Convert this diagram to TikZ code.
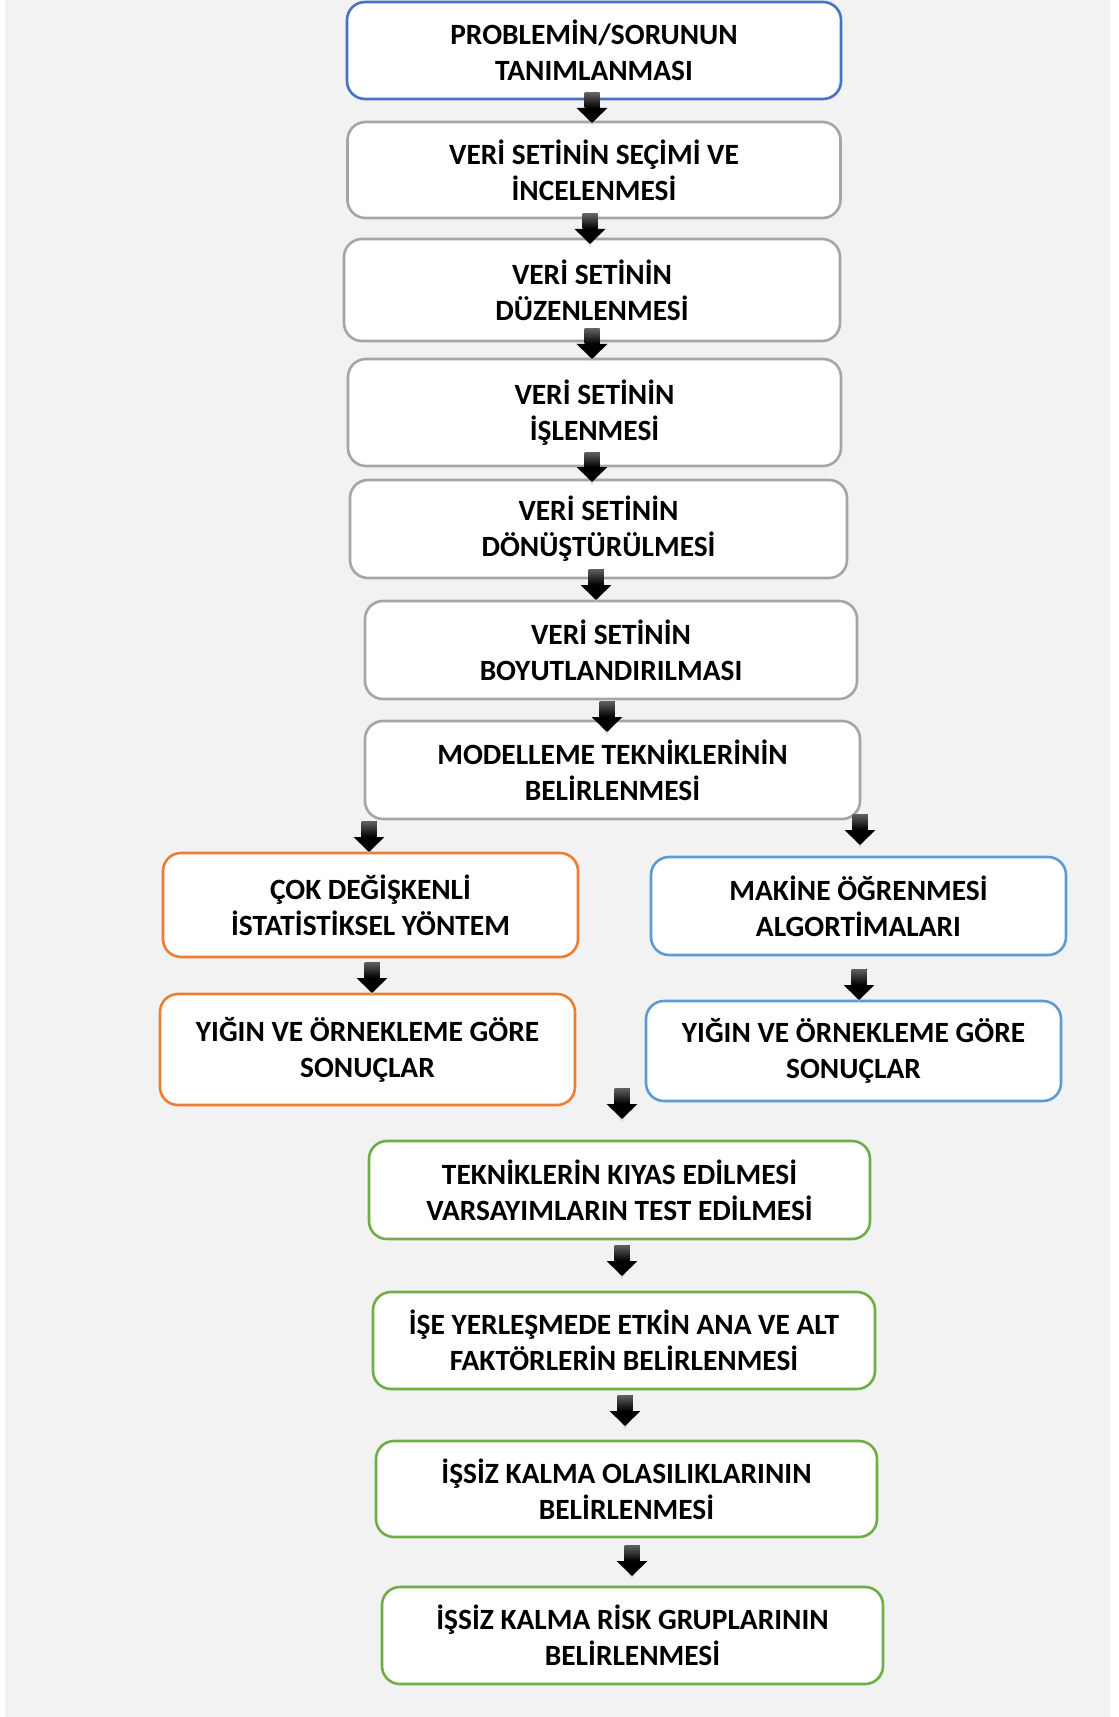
\documentclass[tikz,border=0pt]{standalone}
\usepackage{fontspec}
\setmainfont{Carlito}
\usetikzlibrary{arrows.meta,calc}
\definecolor{bgc}{HTML}{F2F2F2}
\definecolor{topblue}{HTML}{4472C4}
\definecolor{boxgray}{HTML}{A5A5A5}
\definecolor{boxorange}{HTML}{ED7D31}
\definecolor{boxblue}{HTML}{5B9BD5}
\definecolor{boxgreen}{HTML}{70AD47}
\begin{document}
\begin{tikzpicture}[x=0.5pt,y=-0.5pt,
  box/.style={draw, fill=white, rounded corners=9pt, line width=1.3pt,
    align=center, inner sep=0pt, text=black,
    font=\fontsize{14.7}{18}\selectfont\bfseries},
  graybox/.style={box, draw=boxgray},
  orangebox/.style={box, draw=boxorange},
  bluebox/.style={box, draw=boxblue},
  greenbox/.style={box, draw=boxgreen},
  blockarrow/.style={line width=7.5pt, black, -{Triangle[width=15pt,length=7.5pt]}}
]
% background
\useasboundingbox (0,0) rectangle (1118,1717);
\fill[white] (0,0) rectangle (1118,1717);
\fill[bgc] (5,0) rectangle (1110,1717);

% boxes
\node[box, draw=topblue, minimum width=247pt, minimum height=48.5pt] (b1) at (594,50.5) {PROBLEMİN/SORUNUN\\TANIMLANMASI};
\node[graybox, minimum width=246.5pt, minimum height=48pt] (b2) at (594,170) {VERİ SETİNİN SEÇİMİ VE\\İNCELENMESİ};
\node[graybox, minimum width=248pt, minimum height=51pt] (b3) at (592,290) {VERİ SETİNİN\\DÜZENLENMESİ};
\node[graybox, minimum width=246.5pt, minimum height=53.5pt] (b4) at (594.5,412.5) {VERİ SETİNİN\\İŞLENMESİ};
\node[graybox, minimum width=248.5pt, minimum height=49pt] (b5) at (598.5,529) {VERİ SETİNİN\\DÖNÜŞTÜRÜLMESİ};
\node[graybox, minimum width=246pt, minimum height=49pt] (b6) at (611,650) {VERİ SETİNİN\\BOYUTLANDIRILMASI};
\node[graybox, minimum width=247.5pt, minimum height=49pt] (b7) at (612.5,770) {MODELLEME TEKNİKLERİNİN\\BELİRLENMESİ};
\node[orangebox, minimum width=207.5pt, minimum height=52pt] (l1) at (370.5,905) {ÇOK DEĞİŞKENLİ\\İSTATİSTİKSEL YÖNTEM};
\node[orangebox, minimum width=207.5pt, minimum height=55.5pt] (l2) at (367.5,1049.5) {YIĞIN VE ÖRNEKLEME GÖRE\\SONUÇLAR};
\node[bluebox, minimum width=207.5pt, minimum height=49pt] (r1) at (858.5,906) {MAKİNE ÖĞRENMESİ\\ALGORTİMALARI};
\node[bluebox, minimum width=207.5pt, minimum height=50pt] (r2) at (853.5,1051) {YIĞIN VE ÖRNEKLEME GÖRE\\SONUÇLAR};
\node[greenbox, minimum width=250.5pt, minimum height=49pt] (g1) at (619.5,1190) {TEKNİKLERİN KIYAS EDİLMESİ\\VARSAYIMLARIN TEST EDİLMESİ};
\node[greenbox, minimum width=251pt, minimum height=48.5pt] (g2) at (624,1340.5) {İŞE YERLEŞMEDE ETKİN ANA VE ALT\\FAKTÖRLERİN BELİRLENMESİ};
\node[greenbox, minimum width=250.5pt, minimum height=48pt] (g3) at (626.5,1489) {İŞSİZ KALMA OLASILIKLARININ\\BELİRLENMESİ};
\node[greenbox, minimum width=250.5pt, minimum height=48.5pt] (g4) at (632.5,1635.5) {İŞSİZ KALMA RİSK GRUPLARININ\\BELİRLENMESİ};

% arrow end points
\coordinate (a1s) at (592,93);    \coordinate (a1e) at (592,123);
\coordinate (a2s) at (590,214);   \coordinate (a2e) at (590,244);
\coordinate (a3s) at (592,329);   \coordinate (a3e) at (592,359);
\coordinate (a4s) at (592,452);   \coordinate (a4e) at (592,482);
\coordinate (a5s) at (596,569);   \coordinate (a5e) at (596,600);
\coordinate (a6s) at (607,701);   \coordinate (a6e) at (607,732);
\coordinate (a7s) at (369,821);   \coordinate (a7e) at (369,852);
\coordinate (a8s) at (860,814);   \coordinate (a8e) at (860,845);
\coordinate (a9s) at (372,962);   \coordinate (a9e) at (372,993);
\coordinate (a10s) at (859,969);  \coordinate (a10e) at (859,1000);
\coordinate (a11s) at (622,1088); \coordinate (a11e) at (622,1119);
\coordinate (a12s) at (622,1245); \coordinate (a12e) at (622,1276);
\coordinate (a13s) at (625,1395); \coordinate (a13e) at (625,1426);
\coordinate (a14s) at (632,1545); \coordinate (a14e) at (632,1576);

\foreach \i in {1,...,14}{
  \fill[black!25, opacity=0.5] ($(a\i e)+(-10,-14)$) -- ($(a\i e)+(10,-14)$) -- ($(a\i e)+(0,3)$) -- cycle;
  \draw[blockarrow] (a\i s) -- (a\i e);
  \shade[top color=black!62, bottom color=black] ($(a\i s)+(-7.5,0)$) rectangle ($(a\i e)+(7.5,-15)$);
}
\end{tikzpicture}
\end{document}
